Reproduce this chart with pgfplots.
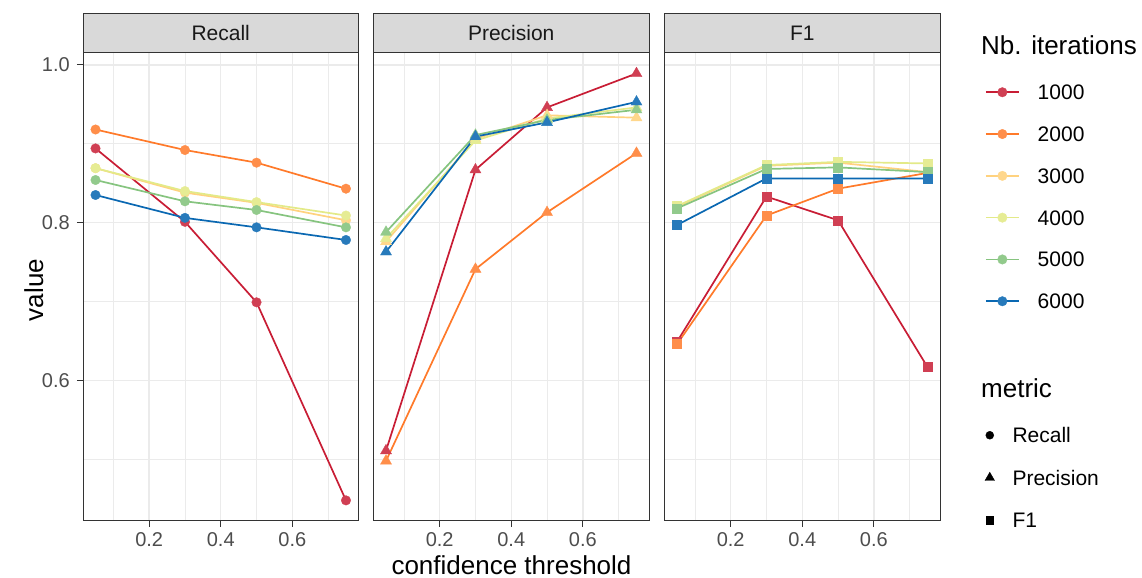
\documentclass[border=0pt]{standalone}
\usepackage{fontspec}
\setmainfont{Liberation Sans}
\usepackage{pgfplots}
\usepackage{pgfplotstable}
\pgfplotsset{compat=1.18}
\definecolor{cA}{HTML}{C81D35}
\definecolor{cB}{HTML}{FF7A2A}
\definecolor{cC}{HTML}{FFD27F}
\definecolor{cD}{HTML}{E3EA88}
\definecolor{cE}{HTML}{86C47F}
\definecolor{cF}{HTML}{0A68B2}
\definecolor{stripgray}{HTML}{D9D9D9}
\definecolor{gridgray}{HTML}{EBEBEB}
\definecolor{grey20}{HTML}{333333}
\definecolor{grey30}{HTML}{4D4D4D}

\pgfplotstableread{
x    i1    i2    i3    i4    i5    i6
0.05 0.894 0.918 0.869 0.869 0.854 0.835
0.30 0.801 0.892 0.838 0.840 0.827 0.806
0.50 0.699 0.876 0.825 0.826 0.816 0.794
0.75 0.448 0.843 0.803 0.809 0.794 0.778
}\recall
\pgfplotstableread{
x    i1    i2    i3    i4    i5    i6
0.05 0.511 0.498 0.776 0.780 0.788 0.763
0.30 0.867 0.741 0.906 0.904 0.911 0.909
0.50 0.946 0.813 0.936 0.932 0.930 0.927
0.75 0.989 0.888 0.933 0.946 0.943 0.953
}\precision
\pgfplotstableread{
x    i1    i2    i3    i4    i5    i6
0.05 0.649 0.646 0.820 0.821 0.818 0.797
0.30 0.833 0.809 0.872 0.873 0.868 0.856
0.50 0.803 0.843 0.876 0.877 0.870 0.856
0.75 0.617 0.863 0.864 0.875 0.864 0.856
}\fone

\pgfplotsset{
  panel/.style={
    scale only axis, width=275.5bp, height=468bp,
    xmin=0.015, xmax=0.785, ymin=0.4225, ymax=1.0156,
    xtick={0.2,0.4,0.6}, minor xtick={0.1,0.3,0.5,0.7},
    ytick={0.6,0.8,1.0}, minor ytick={0.5,0.7,0.9},
    grid=both,
    major grid style={draw=gridgray, line width=1.4bp},
    minor grid style={draw=gridgray, line width=0.8bp},
    axis line style={draw=grey20, line width=1bp},
    tick align=outside, major tick length=6bp, minor tick length=0pt,
    tick style={draw=grey20, line width=1bp},
    xtick pos=bottom, ytick pos=left,
    /pgf/number format/fixed, /pgf/number format/fixed zerofill,
    /pgf/number format/precision=1, /pgf/number format/assume math mode=true,
    ticklabel style={font=\fontsize{20bp}{24bp}\selectfont, text=grey30, inner sep=0pt},
    xticklabel style={yshift=-6bp},
    yticklabel style={xshift=-7bp},
    clip=false,
  },
  s1/.style={color=cA, line width=1.7bp, mark options={solid, fill=cA!85!white, draw=cA!85!white, line width=0.3bp}},
  s2/.style={color=cB, line width=1.7bp, mark options={solid, fill=cB!85!white, draw=cB!85!white, line width=0.3bp}},
  s3/.style={color=cC, line width=1.7bp, mark options={solid, fill=cC!90!white, draw=cC!90!white, line width=0.3bp}},
  s4/.style={color=cD, line width=1.7bp, mark options={solid, fill=cD!90!white, draw=cD!90!white, line width=0.3bp}},
  s5/.style={color=cE, line width=1.7bp, mark options={solid, fill=cE!90!white, draw=cE!90!white, line width=0.3bp}},
  s6/.style={color=cF, line width=1.7bp, mark options={solid, fill=cF!88!white, draw=cF!88!white, line width=0.3bp}},
  cmark/.style={mark=*, mark size=4.8bp},
  tmark/.style={mark=triangle*, mark size=6.4bp},
  smark/.style={mark=square*, mark size=4.5bp},
  mylegend/.style={
    legend image code/.code={\draw[mark repeat=2,mark phase=2,##1] plot coordinates {(0bp,0bp) (16.5bp,0bp) (33bp,0bp)};},
    legend cell align=left,
    legend style={draw=none, fill=none, inner sep=0pt, outer sep=0pt,
      font=\fontsize{21bp}{25bp}\selectfont, column sep=18bp,
      nodes={inner sep=0pt, text height=15bp, text depth=0bp}},
  },
}

\begin{document}
\begin{tikzpicture}
\useasboundingbox (0,0) rectangle (1142bp,578bp);

% ---- Recall ----
\begin{axis}[panel, name=r, at={(83bp,57.5bp)}, anchor=south west]
\addplot[s1, cmark] table[x=x,y=i1]{\recall};
\addplot[s2, cmark] table[x=x,y=i2]{\recall};
\addplot[s3, cmark] table[x=x,y=i3]{\recall};
\addplot[s4, cmark] table[x=x,y=i4]{\recall};
\addplot[s5, cmark] table[x=x,y=i5]{\recall};
\addplot[s6, cmark] table[x=x,y=i6]{\recall};
\end{axis}

% ---- Precision ----
\begin{axis}[panel, name=p, at={(373.5bp,57.5bp)}, anchor=south west, yticklabels={}, ytick style={draw=none}]
\addplot[s1, tmark] table[x=x,y=i1]{\precision};
\addplot[s2, tmark] table[x=x,y=i2]{\precision};
\addplot[s3, tmark] table[x=x,y=i3]{\precision};
\addplot[s4, tmark] table[x=x,y=i4]{\precision};
\addplot[s5, tmark] table[x=x,y=i5]{\precision};
\addplot[s6, tmark] table[x=x,y=i6]{\precision};
\end{axis}

% ---- F1 ----
\begin{axis}[panel, name=f, at={(664.5bp,57.5bp)}, anchor=south west, yticklabels={}, ytick style={draw=none}]
\addplot[s1, smark] table[x=x,y=i1]{\fone};
\addplot[s2, smark] table[x=x,y=i2]{\fone};
\addplot[s3, smark] table[x=x,y=i3]{\fone};
\addplot[s4, smark] table[x=x,y=i4]{\fone};
\addplot[s5, smark] table[x=x,y=i5]{\fone};
\addplot[s6, smark] table[x=x,y=i6]{\fone};
\end{axis}

% strips
\foreach \n/\t in {r/Recall, p/Precision, f/F1}{
  \draw[fill=stripgray, draw=grey20, line width=1bp] (\n.north west) rectangle ([yshift=39bp]\n.north east);
  \node[font=\fontsize{21bp}{25bp}\selectfont, text=black!90] at ([yshift=19.5bp]\n.north) {\t};
}

% axis titles
\node[font=\fontsize{26bp}{30bp}\selectfont, anchor=base, inner sep=0pt] at (511.5bp,4bp) {confidence threshold};
\node[font=\fontsize{26bp}{30bp}\selectfont, anchor=base, rotate=90] at (43bp,288bp) {value};

% legend titles
\node[font=\fontsize{26bp}{30bp}\selectfont, anchor=base west, inner sep=0pt] at (981bp,523bp) {Nb. iterations};
\node[font=\fontsize{26bp}{30bp}\selectfont, anchor=base west, inner sep=0pt] at (981bp,180bp) {metric};

% legend: iterations
\begin{axis}[at={(0bp,0bp)}, anchor=south west, scale only axis, width=1142bp, height=578bp,
  xmin=0, xmax=1142, ymin=0, ymax=578, hide axis, mylegend,
  legend style={at={(axis description cs:0.86252,0.85337)}, anchor=north west, row sep=26.8bp}]
\addlegendimage{s1, cmark}\addlegendentry{1000}
\addlegendimage{s2, cmark}\addlegendentry{2000}
\addlegendimage{s3, cmark}\addlegendentry{3000}
\addlegendimage{s4, cmark}\addlegendentry{4000}
\addlegendimage{s5, cmark}\addlegendentry{5000}
\addlegendimage{s6, cmark}\addlegendentry{6000}
\end{axis}

% legend: metric
\begin{axis}[at={(0bp,0bp)}, anchor=south west, scale only axis, width=1142bp, height=578bp,
  xmin=0, xmax=1142, ymin=0, ymax=578, hide axis, mylegend,
  legend style={at={(axis description cs:0.86252,0.25995)}, anchor=north west, row sep=27.5bp}]
\addlegendimage{only marks, black, mark=*, mark size=4bp}\addlegendentry{Recall}
\addlegendimage{only marks, black, mark=triangle*, mark size=5.5bp}\addlegendentry{Precision}
\addlegendimage{only marks, black, mark=square*, mark size=3.8bp}\addlegendentry{F1}
\end{axis}
\end{tikzpicture}
\end{document}
